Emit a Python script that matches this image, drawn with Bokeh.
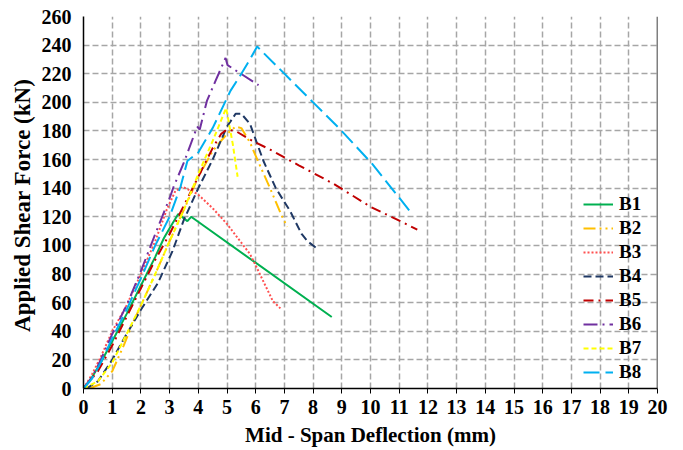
from bokeh.plotting import figure
from bokeh.models import Legend, LegendItem, Span, FixedTicker
from bokeh.embed import file_html
from bokeh.resources import INLINE

# ---- data (mid-span deflection mm, applied shear force kN) ----
b1_x = [0, 0.3, 0.6, 1.0, 1.5, 2.0, 2.5, 2.8, 3.0, 3.3, 3.62, 3.75, 8.65]
b1_y = [0, 8, 18, 33, 52, 72, 92, 105, 112, 122, 117, 120, 50]

b2_x = [0.2, 0.6, 1.0, 1.4, 1.7, 2.0, 2.5, 3.0, 3.5, 4.0, 4.5, 5.0, 5.3, 5.5, 5.8, 6.1, 6.5, 6.9, 7.1]
b2_y = [0, 3, 12, 30, 45, 58, 80, 103, 125, 148, 166, 178, 183, 182, 172, 158, 140, 121, 113]

b3_x = [0, 0.3, 0.6, 1.0, 1.5, 2.0, 2.5, 2.9, 3.2, 3.45, 3.97, 4.5, 5.0, 5.8, 6.0, 6.6, 6.86]
b3_y = [0, 10, 22, 40, 58, 80, 103, 125, 138, 141, 136, 126, 115, 94, 86, 61, 56]

b4_x = [0.1, 0.5, 1.0, 1.5, 2.0, 2.6, 3.1, 3.5, 4.0, 4.5, 5.0, 5.3, 5.5, 5.8, 6.27, 6.7, 7.2, 7.6, 7.8, 8.12]
b4_y = [0, 5, 20, 38, 55, 74, 96, 118, 140, 160, 183, 192, 192, 185, 159, 140, 124, 108, 103, 98]

b5_x = [0, 0.5, 1.0, 1.5, 2.0, 2.5, 3.0, 3.5, 4.0, 4.5, 4.8, 5.0, 5.3, 5.8, 6.5, 7.5, 8.72, 10.0, 11.04, 11.63]
b5_y = [0, 12, 30, 50, 70, 90, 108, 128, 148, 168, 178, 181, 180, 174, 167, 156, 143, 127, 117, 111]

b6_x = [0, 0.3, 0.6, 1.0, 1.5, 2.0, 2.5, 3.0, 3.14, 3.5, 3.96, 4.05, 4.3, 4.6, 4.95, 5.02, 6.1]
b6_y = [0, 8, 20, 38, 58, 82, 108, 133, 141, 158, 183, 181, 201, 215, 231, 226, 212]

b7_x = [0, 0.5, 1.0, 1.5, 2.0, 2.5, 3.0, 3.5, 4.0, 4.5, 4.97, 5.2, 5.37]
b7_y = [0, 5, 18, 38, 58, 80, 103, 125, 150, 173, 196, 171, 148]

b8_x = [0, 0.3, 0.6, 1.0, 1.5, 2.0, 2.5, 3.0, 3.38, 3.62, 4.0, 4.5, 5.12, 5.5, 5.8, 6.05, 8.0, 8.95, 10.06, 11.45]
b8_y = [0, 7, 18, 35, 55, 77, 100, 120, 141, 159, 165, 182, 208, 220, 230, 239, 200, 181, 157, 122]

names = ["B1", "B2", "B3", "B4", "B5", "B6", "B7", "B8"]
xs = [b1_x, b2_x, b3_x, b4_x, b5_x, b6_x, b7_x, b8_x]
ys = [b1_y, b2_y, b3_y, b4_y, b5_y, b6_y, b7_y, b8_y]
colors = ["#00B050", "#FFC000", "#FF5050", "#1F3864", "#C00000", "#7030A0", "#FFFF00", "#00B0F0"]
dashes = ["solid", "12 4 2 4 2 4", "2 2", "8 4", "10 5 2 5", "14 5 2 5", "5 3", "16 6"]

x_ticks = list(range(0, 21))
y_ticks = list(range(0, 261, 20))

FONT = "Liberation Serif"

p = figure(width=683, height=450, output_backend="svg", toolbar_location=None,
           x_range=(0, 20), y_range=(0, 260),
           min_border_left=83, min_border_right=26, min_border_top=16, min_border_bottom=62)
p.outline_line_color = None
p.background_fill_color = "white"

for ax in (p.xaxis[0], p.yaxis[0]):
    ax.axis_line_color = "black"
    ax.axis_line_width = 1.5
    ax.major_label_text_font = FONT
    ax.major_label_text_font_style = "bold"
    ax.major_label_text_font_size = "20px"
    ax.major_label_text_color = "black"
    ax.axis_label_text_font = FONT
    ax.axis_label_text_font_style = "bold"
    ax.axis_label_text_color = "black"
    ax.minor_tick_line_color = None

p.xaxis.axis_label_text_font_size = "21px"
p.yaxis.axis_label_text_font_size = "23px"

p.xaxis.ticker = FixedTicker(ticks=x_ticks)
p.yaxis.ticker = FixedTicker(ticks=y_ticks)
p.xaxis.major_tick_in = 0
p.xaxis.major_tick_out = 5
p.xaxis.major_tick_line_color = "black"
p.xaxis.major_label_standoff = 6
p.yaxis.major_tick_in = 0
p.yaxis.major_tick_out = 0
p.yaxis.major_label_standoff = 12
p.xaxis.axis_label = "Mid - Span Deflection (mm)"
p.yaxis.axis_label = "Applied Shear  Force (kN)"
p.xaxis.axis_label_standoff = 6
p.yaxis.axis_label_standoff = 4

for g in (p.xgrid[0], p.ygrid[0]):
    g.grid_line_color = "#A6A6A6"
    g.grid_line_dash = "6 3"
    g.grid_line_width = 1.5

p.add_layout(Span(location=20, dimension="height", line_color="black", line_width=1.5))

items = []
for n, x, y, c, d in zip(names, xs, ys, colors, dashes):
    r = p.line(x, y, line_color=c, line_width=2, line_dash=d)
    items.append(LegendItem(label=n, renderers=[r]))

legend = Legend(items=items, location=(500, 5), background_fill_alpha=0, border_line_alpha=0,
                label_text_font=FONT, label_text_font_style="bold", label_text_font_size="19px",
                label_text_color="black", glyph_width=30, glyph_height=18, label_height=18,
                spacing=2, padding=0, margin=0, label_standoff=6)
p.add_layout(legend)

open("out.html", "w").write(file_html(p, INLINE))
